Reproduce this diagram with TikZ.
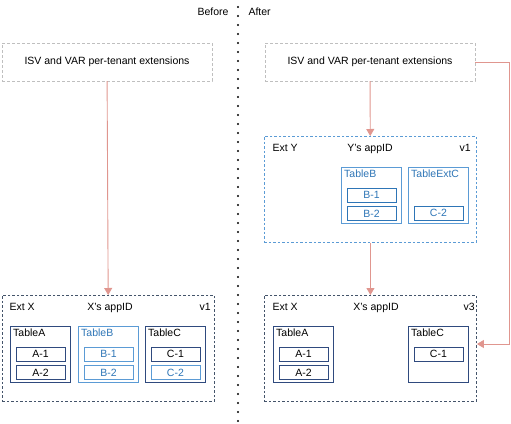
\documentclass[tikz,border=0pt]{standalone}
\usepackage{fontspec}
\setmainfont{Liberation Sans}
\usepackage{tikz}
\usetikzlibrary{arrows.meta,positioning}

\definecolor{navy}{HTML}{2F4A7E}
\definecolor{slate}{HTML}{44546A}
\definecolor{sky}{HTML}{5B9BD5}
\definecolor{skytext}{HTML}{2E75B6}
\definecolor{salmon}{HTML}{E0968F}
\definecolor{ghost}{HTML}{BFBFBF}

\tikzset{
  isvbox/.style={draw=ghost, dash pattern=on 3pt off 2pt, minimum width=210pt, minimum height=38pt},
  extbox/.style={dash pattern=on 2.5pt off 2pt, line width=0.9pt, minimum width=212pt, minimum height=106pt, anchor=north west, inner sep=0pt},
  tbl/.style={draw=navy, line width=0.9pt, minimum width=60pt, minimum height=56pt, anchor=north west, inner sep=0pt},
  tblname/.style={anchor=north west, inner sep=3pt},
  row/.style={draw=navy, line width=0.8pt, minimum width=49pt, minimum height=14pt, inner sep=0pt},
  light/.style={draw=sky, text=skytext},
  link/.style={draw=salmon, line width=0.9pt, -{Triangle[length=7pt,width=8pt]}},
}

\begin{document}
\begin{tikzpicture}[x=1pt,y=-1pt,font=\fontsize{10.5}{12}\selectfont]
    \useasboundingbox (0,0) rectangle (511,423);
    % divider
    \draw[line width=2.4pt, line cap=round, dash pattern=on 0pt off 9pt] (238,7) -- (238,423);
    \node[anchor=base east] (before) at (232,16) {Before};
    \node[anchor=base west] (after) at (245,16) {After};

    % before
    \node[isvbox] (isvL) at (107,62) {ISV and VAR per-tenant extensions};
    \node[extbox, draw=slate] (extXL) at (2,295) {};
    \node[anchor=base west] (extXLname) at (6,310) {Ext X};
    \node[anchor=base] (appXL) at (110,310) {X’s appID};
    \node[anchor=base east, inner sep=1pt] (verXL) at (212,310) {v1};

    \node[tbl] (tAL) at (10,326) {};
    \node[tblname] at (tAL.north west) {TableA};
    \node[row, below=20.5pt of tAL.north] (a1L) {A-1};
    \node[row, below=4pt of a1L] (a2L) {A-2};

    \node[tbl, light] (tBL) at (78,326) {};
    \node[tblname, text=skytext] at (tBL.north west) {TableB};
    \node[row, light, below=20.5pt of tBL.north] (b1L) {B-1};
    \node[row, light, below=4pt of b1L] (b2L) {B-2};

    \node[tbl] (tCL) at (145,326) {};
    \node[tblname] at (tCL.north west) {TableC};
    \node[row, below=20.5pt of tCL.north] (c1L) {C-1};
    \node[row, light, below=4pt of c1L] (c2L) {C-2};

    \draw[link] (isvL) -- (extXL);

    % after
    \node[isvbox] (isvR) at (370,62) {ISV and VAR per-tenant extensions};

    \node[extbox, draw=sky] (extY) at (264,136) {};
    \node[anchor=base west] (extYname) at (269,151) {Ext Y};
    \node[anchor=base] (appY) at (370,151) {Y’s appID};
    \node[anchor=base east, inner sep=1pt] (verY) at (472,151) {v1};

    \node[tbl, light] (tBY) at (341,167) {};
    \node[tblname, text=skytext] at (tBY.north west) {TableB};
    \node[row, light, draw=skytext, below=20.5pt of tBY.north] (b1Y) {B-1};
    \node[row, light, draw=skytext, below=4pt of b1Y] (b2Y) {B-2};

    \node[tbl, light] (tCY) at (408,167) {};
    \node[tblname, text=skytext] at (tCY.north west) {TableExtC};
    \node[row, light, draw=skytext, below=38.5pt of tCY.north] (c2Y) {C-2};

    \node[extbox, draw=slate] (extXR) at (264,295) {};
    \node[anchor=base west] (extXRname) at (269,310) {Ext X};
    \node[anchor=base] (appXR) at (376,310) {X’s appID};
    \node[anchor=base east, inner sep=1pt] (verXR) at (476,310) {v3};

    \node[tbl] (tAR) at (273,326) {};
    \node[tblname] at (tAR.north west) {TableA};
    \node[row, below=20.5pt of tAR.north] (a1R) {A-1};
    \node[row, below=4pt of a1R] (a2R) {A-2};

    \node[tbl] (tCR) at (408,326) {};
    \node[tblname] at (tCR.north west) {TableC};
    \node[row, below=20.5pt of tCR.north] (c1R) {C-1};

    \coordinate (bend) at (509,344);
    \draw[link] (isvR) -- (extY);
    \draw[link] (extY) -- (extXR);
    \draw[link] (isvR.east) -| (bend) -- (extXR.east |- bend);
\end{tikzpicture}
\end{document}
